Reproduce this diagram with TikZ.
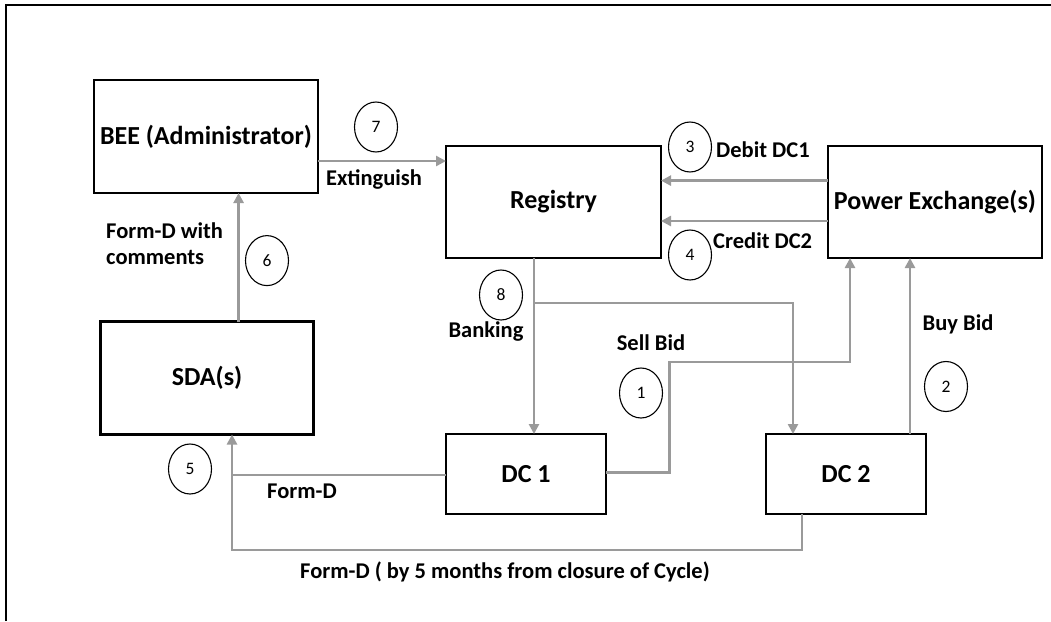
\documentclass[tikz,border=0pt]{standalone}
\usepackage{fontspec}
\setmainfont{Carlito}
\usetikzlibrary{arrows.meta,shapes.geometric}
\definecolor{linegray}{HTML}{9A9A9A}
\begin{document}
\begin{tikzpicture}[x=1pt,y=-1pt,
  box/.style={draw=black,line width=2.6pt,inner sep=0pt,outer sep=0pt,font=\fontsize{26}{31}\selectfont\bfseries},
  num/.style={draw=black,line width=1.1pt,ellipse,minimum width=43pt,minimum height=50pt,inner sep=0pt,font=\fontsize{17.5}{20}\selectfont},
  lbl/.style={inner sep=0pt,font=\fontsize{22.5}{26}\selectfont\bfseries},
  arr/.style={draw=linegray,line width=2.6pt,-{Triangle[length=10pt,width=10pt]}},
  ln/.style={draw=linegray,line width=2.6pt}]
\useasboundingbox (0,0) rectangle (1051,621);
\draw[line width=2pt] (6,621) -- (6,5) -- (1051,5);
% boxes
\node[box,minimum width=224pt,minimum height=113pt] (bee) at (206,136.5) {BEE (Administrator)};
\node[box,minimum width=215pt,minimum height=112pt] (reg) at (553.5,202) {Registry};
\node[box,minimum width=214pt,minimum height=112pt] (pe) at (935,202) {Power Exchange(s)};
\node[box,minimum width=213pt,minimum height=113pt] (sda) at (207,378) {SDA(s)};
\node[box,minimum width=160pt,minimum height=80pt] (dc1) at (526,474) {DC 1};
\node[box,minimum width=160pt,minimum height=80pt] (dc2) at (846,474) {DC 2};
% coordinates
\coordinate (br) at (534,303);
\coordinate (brr) at (793,303);
\coordinate (sb1) at (669.6,472.5);
\coordinate (sb2) at (669.6,362);
\coordinate (sb3) at (850,362);
\coordinate (fd1) at (232,475);
\coordinate (fd2) at (802,550);
\coordinate (fd3) at (232,550);
% connectors
\draw[arr] (bee.east |- 0,161) -- (reg.west |- 0,161);
\draw[arr] (pe.west |- 0,180.6) -- (reg.east |- 0,180.6);
\draw[arr] (pe.west |- 0,221) -- (reg.east |- 0,221);
\draw[arr] (reg.south -| br) -- (dc1.north -| br);
\draw[arr] (br) -- (brr) -- (dc2.north -| brr);
\draw[arr] (dc1.east |- sb1) -- (sb1) -- (sb2) -- (sb3) -- (pe.south -| sb3);
\draw[arr] (dc2.north -| 910,0) -- (pe.south -| 910,0);
\draw[arr] (sda.north -| 238.6,0) -- (bee.south -| 238.6,0);
\draw[ln] (dc1.west |- fd1) -- (fd1);
\draw[arr] (dc2.south -| fd2) -- (fd2) -- (fd3) -- (sda.south -| fd3);
% numbered circles
\node[num] (n7) at (376,127) {7};
\node[num] (n3) at (690,147) {3};
\node[num] (n4) at (690,255) {4};
\node[num] (n8) at (501,295) {8};
\node[num] (n1) at (641,393) {1};
\node[num] (n2) at (946,386.5) {2};
\node[num] (n6) at (267,260.6) {6};
\node[num] (n5) at (190,469) {5};
% labels
\node[lbl] (lext) at (374,179) {Extinguish};
\node[lbl,anchor=west] (ldeb) at (716,150) {Debit DC1};
\node[lbl,anchor=west] (lcre) at (713,241) {Credit DC2};
\node[lbl] (lbank) at (486,332) {Banking};
\node[lbl] (lsell) at (651,343) {Sell Bid};
\node[lbl] (lbuy) at (958,324) {Buy Bid};
\node[lbl,anchor=west,align=left] (lfdc) at (106,244) {Form-D with\\comments};
\node[lbl] (lfd) at (302,491) {Form-D};
\node[lbl] (lfd5) at (505,572) {Form-D ( by 5 months from closure of Cycle)};
\end{tikzpicture}
\end{document}
